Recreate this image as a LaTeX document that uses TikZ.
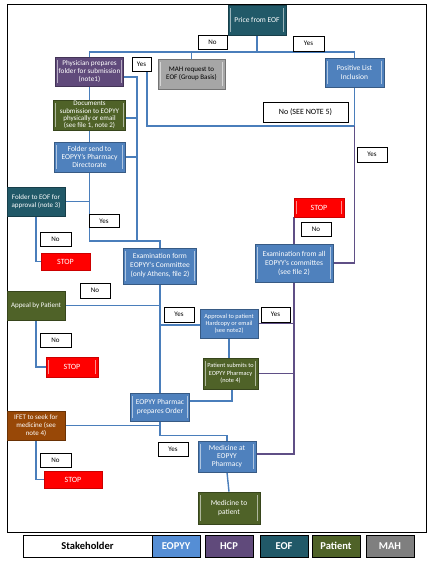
\documentclass[tikz,border=0pt]{standalone}
\usepackage{fontspec}
\setmainfont{Carlito}
\usetikzlibrary{backgrounds}
\definecolor{cEOPYY}{HTML}{4F81BD}
\definecolor{cEOF}{HTML}{215968}
\definecolor{cHCP}{HTML}{604A7B}
\definecolor{cPat}{HTML}{4F6228}
\definecolor{cMAH}{HTML}{A6A6A6}
\definecolor{cIFET}{HTML}{984807}
\definecolor{cStop}{HTML}{FF0000}
\definecolor{lnBlue}{HTML}{4A7EBB}
\definecolor{lnPurp}{HTML}{5F4F86}
\definecolor{lgEOPYY}{HTML}{558ED5}
\definecolor{lgMAH}{HTML}{7F7F7F}
\begin{document}
\begin{tikzpicture}[x=1pt,y=-1pt,
  wh/.style 2 args={minimum width=#1, minimum height=#2},
  box/.style={fill=#1, draw=#1!70!black, line width=0.6pt, text=white, align=center,
    inner sep=0.5pt, font=\fontsize{7.5}{8.3}\selectfont},
  bars/.style={path picture={
    \draw[white,opacity=0.55,line width=1.3pt]
      ([xshift=2.3pt,yshift=3pt]path picture bounding box.south west) --
      ([xshift=2.3pt,yshift=-3pt]path picture bounding box.north west);
    \draw[white,opacity=0.55,line width=1.3pt]
      ([xshift=-2.3pt,yshift=3pt]path picture bounding box.south east) --
      ([xshift=-2.3pt,yshift=-3pt]path picture bounding box.north east);}},
  stopb/.style={fill=cStop, draw=cStop!80!black, line width=0.5pt, text=white,
    inner sep=0.5pt, font=\fontsize{8}{9}\selectfont},
  lab/.style={draw=black, fill=white, line width=0.5pt, inner sep=0pt, text=black,
    font=\fontsize{7}{8}\selectfont},
  ln/.style={draw=lnBlue, line width=1.4pt},
  lp/.style={draw=lnPurp, line width=1.4pt},
  leg/.style={draw=black, line width=0.8pt, inner sep=0pt, text=white,
    minimum width=48, minimum height=22, font=\bfseries\fontsize{10.5}{12}\selectfont}
]
\useasboundingbox (0,0) rectangle (438,563);

% nodes
\node[box=cEOF, bars, wh={58}{30}] (price) at (257,20) {Price from EOF};
\node[lab, wh={29}{14}] (noA) at (212.5,42) {No};
\node[lab, wh={31}{15}] (yesA) at (308.5,43.5) {Yes};
\node[box=cHCP, bars, wh={68}{29}, font=\fontsize{7.2}{8.3}\selectfont] (phys) at (89.5,71.5) {Physician prepares\\folder for submission\\(note1)};
\node[lab, wh={19}{14}] (yesB) at (141.5,64) {Yes};
\node[box=cMAH, bars, text=black, wh={67}{30}, font=\fontsize{7}{8.5}\selectfont] (mah) at (191.5,74) {MAH request to\\EOF (Group Basis)};
\node[box=cEOPYY, bars, wh={59}{29}] (pos) at (354.5,72.5) {Positive List\\Inclusion};
\node[lab, wh={85}{20}, font=\fontsize{8}{9}\selectfont] (no5) at (305.5,112) {No (SEE NOTE 5)};
\node[box=cPat, bars, wh={72}{30}, font=\fontsize{7}{7.3}\selectfont] (docs) at (89.5,115) {Documents\\submission to EOPYY\\physically or email\\(see file 1, note 2)};
\node[box=cEOPYY, bars, wh={71}{30}] (fsend) at (89.5,157) {Folder send to\\EOPYY's Pharmacy\\Directorate};
\node[lab, wh={30}{15}] (yesC) at (372,154.5) {Yes};
\node[box=cEOF, wh={58}{29}, font=\fontsize{7}{8.3}\selectfont] (feof) at (36,201.5) {Folder to EOF for\\approval (note 3)};
\node[stopb, bars, wh={50}{19}] (stop3) at (319,207.5) {STOP};
\node[lab, wh={30}{13}] (yesD) at (104,221) {Yes};
\node[lab, wh={30}{14}] (noE) at (316,229) {No};
\node[lab, wh={31}{14}] (noF) at (55.5,239) {No};
\node[box=cEOPYY, bars, wh={78}{38}, font=\fontsize{7.5}{9}\selectfont] (exall) at (294,263) {Examination from all\\EOPYY's committes\\(see file 2)};
\node[box=cEOPYY, bars, wh={73}{36}, font=\fontsize{7.5}{9}\selectfont] (exform) at (160,266) {Examination form\\EOPYY's Committee\\(only Athens, file 2)};
\node[stopb, wh={49}{17}] (stop1) at (65.5,261.5) {STOP};
\node[lab, wh={30}{15}] (noG) at (95,290.5) {No};
\node[box=cPat, wh={58}{29}, font=\fontsize{7}{8.3}\selectfont] (appeal) at (36,305.5) {Appeal by Patient};
\node[lab, wh={30}{15}] (yesH) at (179,314.5) {Yes};
\node[box=cEOPYY, wh={58}{29}, font=\fontsize{6.3}{7}\selectfont] (appr) at (229,323.5) {Approval to patient\\Hardcopy or email\\(see note2)};
\node[lab, wh={29}{15}] (yesI) at (275.5,314.5) {Yes};
\node[lab, wh={31}{14}] (noJ) at (55.5,340) {No};
\node[stopb, bars, wh={52}{20}] (stop2) at (72,367) {STOP};
\node[box=cPat, bars, wh={55}{31}, font=\fontsize{6.3}{7.5}\selectfont] (patsub) at (230.5,373.5) {Patient submits to\\EOPYY Pharmacy\\(note 4)};
\node[box=cEOPYY, bars, wh={59}{28}] (pharm) at (160,407) {EOPYY Pharmac\\prepares Order};
\node[box=cIFET, wh={58}{29}, font=\fontsize{7}{8.3}\selectfont] (ifet) at (36,425.5) {IFET to seek for\\medicine (see\\note 4)};
\node[lab, wh={30}{14}] (yesK) at (173,449) {Yes};
\node[box=cEOPYY, bars, wh={58}{31}] (med) at (227,456.5) {Medicine at\\EOPYY\\Pharmacy};
\node[lab, wh={31}{14}] (noL) at (55.5,460) {No};
\node[stopb, wh={58}{17}] (stop4) at (73,479.5) {STOP};
\node[box=cPat, bars, wh={62}{32}] (medpat) at (229,508) {Medicine to\\patient};

% legend
\node[leg, text=black, minimum width=129] (lgS) at (87.5,546) {Stakeholder};
\node[leg, fill=lgEOPYY] (lgE) at (176,546) {EOPYY};
\node[leg, fill=cHCP] (lgH) at (229,546) {HCP};
\node[leg, fill=cEOF] (lgF) at (284,546) {EOF};
\node[leg, fill=cPat] (lgP) at (336,546) {Patient};
\node[leg, fill=lgMAH] (lgM) at (390,546) {MAH};

\coordinate (jtop) at (257,52);
\coordinate (bt) at (137,77);
\coordinate (bb) at (137,241);
\coordinate (jr) at (354.5,126);

\begin{scope}[on background layer]
\fill[white] (0,0) rectangle (438,563);
\draw[line width=1pt] (7,4) rectangle (426,532);
% connectors
\draw[ln] (price.south) -- (jtop);
\draw[ln] (phys.north) |- (jtop) -| (pos.north);
\draw[ln] (mah.north) -- (mah.north |- jtop);
\draw[ln] (phys.south) -- (docs.north);
\draw[ln] (docs.south) -- (fsend.north);
\draw[ln] ([yshift=-5.5pt]phys.east) -- (bt) -- (bb);
\draw[ln] ([yshift=-3pt]docs.east) -- ([yshift=-3pt]docs.east -| bt);
\draw[ln] (fsend.east) -- (fsend.east -| bt);
\draw[ln] (fsend.south) |- (bb) -| (exform.north);
\draw[ln] (feof.east) -- (feof.east -| fsend.south);
\draw[ln] (feof.south) |- (stop1.west);
\draw[ln] ([xshift=5.5pt]yesB.south) |- (jr);
\draw[ln] (pos.south) -- (jr);
\draw[lp] (jr) |- (exall.east);
\draw[lp] (stop3.south -| exall.north) -- (exall.north);
\draw[lp] (exall.south) |- ([yshift=2.5pt]med.east);
\draw[lp] (appr.east) -- (appr.east -| exall.south);
\draw[lp] (patsub.east) -- (patsub.east -| exall.south);
\draw[ln] (exform.south) -- (pharm.north);
\draw[ln] (appeal.east) -- (appeal.east -| exform.south);
\draw[ln] ([yshift=-1.5pt]appr.west) -- ([yshift=-1.5pt]appr.west -| exform.south);
\draw[ln] (appeal.south) |- (stop2.west);
\draw[ln] (appr.south) -- (appr.south |- patsub.north);
\draw[ln] ([xshift=1.5pt]patsub.south) |- ([yshift=6pt]pharm.east);
\draw[ln] (pharm.south) |- ([yshift=5pt]med.north) -- (med.north);
\draw[ln] (ifet.east) -- (ifet.east -| pharm.south);
\draw[ln] (ifet.south) |- (stop4.west);
\draw[ln] (med.south) -- (medpat.north);
\end{scope}
\end{tikzpicture}
\end{document}
